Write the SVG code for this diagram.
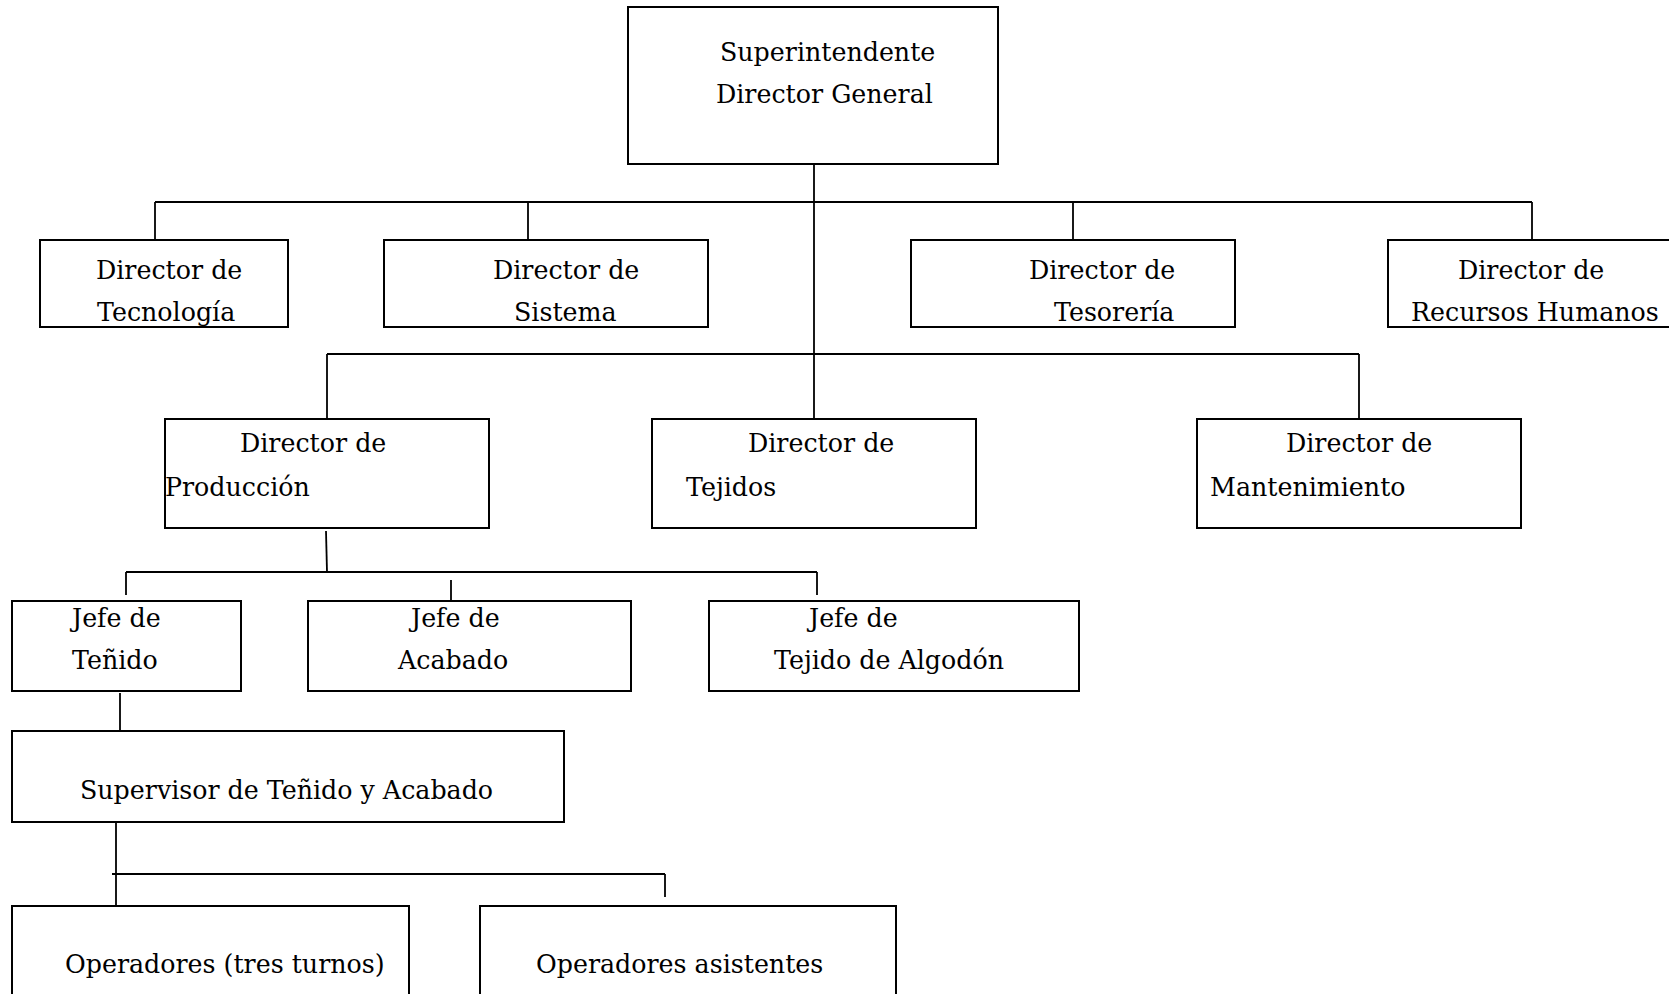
<svg xmlns="http://www.w3.org/2000/svg" width="1669" height="994" viewBox="0 0 1669 994">
  <style>
    .box { fill: #ffffff; stroke: #000000; stroke-width: 2; }
    .ln { stroke: #000000; stroke-width: 1.8; fill: none; }
    text { font-family: "DejaVu Serif", "Liberation Serif", serif; font-size: 25.3px; fill: #000000; }
  </style>
  <rect width="1669" height="994" fill="#ffffff"/>

  <!-- connectors -->
  <g id="connectors">
    <!-- from Superintendente down the spine -->
    <line class="ln" x1="814" y1="159" x2="814" y2="419"/>
    <line class="ln" x1="155" y1="202" x2="1532" y2="202"/>
    <line class="ln" x1="155" y1="202" x2="155" y2="240"/>
    <line class="ln" x1="528" y1="202" x2="528" y2="240"/>
    <line class="ln" x1="1073" y1="202" x2="1073" y2="240"/>
    <line class="ln" x1="1532" y1="202" x2="1532" y2="245"/>
    <!-- second level -->
    <line class="ln" x1="327" y1="354" x2="1359" y2="354"/>
    <line class="ln" x1="327" y1="354" x2="327" y2="419"/>
    <line class="ln" x1="1359" y1="354" x2="1359" y2="419"/>
    <!-- Producción to jefes -->
    <line class="ln" x1="326" y1="531" x2="327" y2="572"/>
    <line class="ln" x1="126" y1="572" x2="817" y2="572"/>
    <line class="ln" x1="126" y1="572" x2="126" y2="595"/>
    <line class="ln" x1="451" y1="580" x2="451" y2="601"/>
    <line class="ln" x1="817" y1="572" x2="817" y2="595"/>
    <!-- Teñido to Supervisor -->
    <line class="ln" x1="120" y1="693" x2="120" y2="739"/>
    <!-- Supervisor to operadores -->
    <line class="ln" x1="116" y1="815" x2="116" y2="906"/>
    <line class="ln" x1="112" y1="874" x2="665" y2="874"/>
    <line class="ln" x1="665" y1="874" x2="665" y2="897"/>
  </g>

  <g id="superintendente">
    <rect class="box" x="628" y="7" width="370" height="157"/>
    <text x="720" y="61">Superintendente</text>
    <text x="716" y="103">Director General</text>
  </g>

  <g id="dir-tecnologia">
    <rect class="box" x="40" y="240" width="248" height="87"/>
    <text x="96" y="279">Director de</text>
    <text x="97" y="321">Tecnología</text>
  </g>

  <g id="dir-sistema">
    <rect class="box" x="384" y="240" width="324" height="87"/>
    <text x="493" y="279">Director de</text>
    <text x="514" y="321">Sistema</text>
  </g>

  <g id="dir-tesoreria">
    <rect class="box" x="911" y="240" width="324" height="87"/>
    <text x="1029" y="279">Director de</text>
    <text x="1054" y="321">Tesorería</text>
  </g>

  <g id="dir-rrhh">
    <rect class="box" x="1388" y="240" width="300" height="87"/>
    <text x="1458" y="279">Director de</text>
    <text x="1411" y="321">Recursos Humanos</text>
  </g>

  <g id="dir-produccion">
    <rect class="box" x="165" y="419" width="324" height="109"/>
    <text x="240" y="452">Director de</text>
    <text x="165" y="496">Producción</text>
  </g>

  <g id="dir-tejidos">
    <rect class="box" x="652" y="419" width="324" height="109"/>
    <text x="748" y="452">Director de</text>
    <text x="686" y="496">Tejidos</text>
  </g>

  <g id="dir-mantenimiento">
    <rect class="box" x="1197" y="419" width="324" height="109"/>
    <text x="1286" y="452">Director de</text>
    <text x="1210" y="496">Mantenimiento</text>
  </g>

  <g id="jefe-tenido">
    <rect class="box" x="12" y="601" width="229" height="90"/>
    <text x="72" y="627">Jefe de</text>
    <text x="72" y="669">Teñido</text>
  </g>

  <g id="jefe-acabado">
    <rect class="box" x="308" y="601" width="323" height="90"/>
    <text x="411" y="627">Jefe de</text>
    <text x="398" y="669">Acabado</text>
  </g>

  <g id="jefe-algodon">
    <rect class="box" x="709" y="601" width="370" height="90"/>
    <text x="809" y="627">Jefe de</text>
    <text x="774" y="669">Tejido de Algodón</text>
  </g>

  <g id="supervisor">
    <rect class="box" x="12" y="731" width="552" height="91"/>
    <text x="80" y="799">Supervisor de Teñido y Acabado</text>
  </g>

  <g id="operadores-turnos">
    <rect class="box" x="12" y="906" width="397" height="100"/>
    <text x="65" y="973">Operadores (tres turnos)</text>
  </g>

  <g id="operadores-asistentes">
    <rect class="box" x="480" y="906" width="416" height="100"/>
    <text x="536" y="973">Operadores asistentes</text>
  </g>
</svg>
